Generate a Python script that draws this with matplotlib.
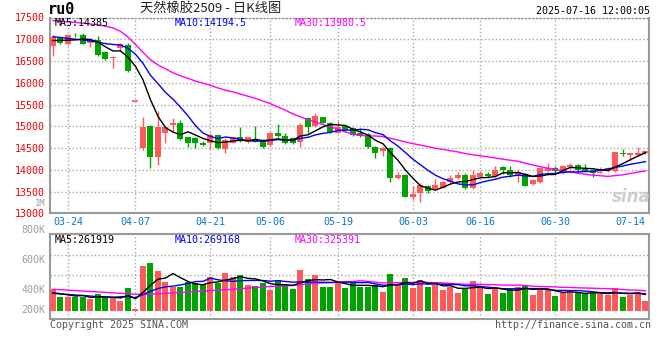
import matplotlib
matplotlib.use('Agg')
import matplotlib.pyplot as plt
import numpy as np
import pandas as pd
from matplotlib.transforms import blended_transform_factory

plt.rcParams['font.family'] = ['DejaVu Sans Mono']

# %%
# trading days shown (2025)
dates = ['03-20', '03-21', '03-24', '03-25', '03-26', '03-27', '03-28', '03-31', '04-01', '04-02',
         '04-03', '04-07', '04-08', '04-09', '04-10', '04-11', '04-14', '04-15', '04-16', '04-17',
         '04-18', '04-21', '04-22', '04-23', '04-24', '04-25', '04-28', '04-29', '04-30', '05-06',
         '05-07', '05-08', '05-09', '05-12', '05-13', '05-14', '05-15', '05-16', '05-19', '05-20',
         '05-21', '05-22', '05-23', '05-26', '05-27', '05-28', '05-29', '05-30', '06-03', '06-04',
         '06-05', '06-06', '06-09', '06-10', '06-11', '06-12', '06-13', '06-16', '06-17', '06-18',
         '06-19', '06-20', '06-23', '06-24', '06-25', '06-26', '06-27', '06-30', '07-01', '07-02',
         '07-03', '07-04', '07-07', '07-08', '07-09', '07-10', '07-11', '07-14', '07-15', '07-16']
label_dates = ['03-24', '04-07', '04-21', '05-06', '05-19', '06-03', '06-16', '06-30', '07-14']

opens = [16854, 17023, 16893, 17085, 17100, 16923, 16985, 16717, 16563, 16793,
         16870, 15582, 14494, 15008, 14303, 14854, 15038, 15069, 14747, 14740,
         14609, 14609, 14801, 14471, 14625, 14762, 14648, 14701, 14648, 14571,
         14854, 14778, 14740, 14648, 15184, 15008, 15207, 15084, 14854, 15008,
         14954, 14854, 14824, 14517, 14441, 14510, 13805, 13881, 13383, 13460,
         13628, 13552, 13590, 13720, 13812, 13881, 13575, 13843, 13897, 13858,
         14058, 13996, 13858, 13904, 13674, 13728, 13981, 14050, 13920, 14073,
         14111, 14012, 13996, 13935, 13981, 13981, 14395, 14341, 14349, 14379]
highs = [17100, 17040, 17120, 17140, 17140, 17020, 17077, 16730, 16610, 16920,
         16920, 15582, 15222, 15040, 15360, 15010, 15184, 15146, 14760, 14750,
         14670, 14839, 14810, 14724, 14762, 14992, 14762, 15008, 14700, 14877,
         15054, 14840, 14762, 15069, 15207, 15314, 15222, 15107, 15130, 15023,
         14977, 14954, 14854, 14548, 14533, 14533, 13958, 13904, 13628, 13690,
         13651, 13782, 13743, 13874, 13958, 13920, 13996, 13973, 13950, 14088,
         14088, 14096, 14012, 13935, 13782, 14073, 14149, 14088, 14111, 14165,
         14134, 14134, 14012, 14066, 14073, 14418, 14471, 14379, 14533, 14456]
lows = [16625, 16900, 16870, 17050, 16880, 16830, 16620, 16520, 16349, 16740,
        16250, 15582, 14456, 14035, 14111, 14609, 14877, 14690, 14517, 14494,
        14540, 14471, 14480, 14395, 14610, 14650, 14625, 14640, 14510, 14548,
        14762, 14594, 14594, 14533, 14854, 14977, 15069, 14854, 14839, 14900,
        14778, 14747, 14494, 14264, 14318, 13728, 13782, 13368, 13307, 13268,
        13460, 13536, 13575, 13690, 13797, 13552, 13552, 13828, 13820, 13843,
        13904, 13843, 13728, 13628, 13659, 13690, 13958, 13920, 13904, 14012,
        13935, 13958, 13843, 13920, 13958, 13958, 14318, 14211, 14318, 14364]
closes = [17046, 16923, 17100, 17065, 16893, 16985, 16640, 16540, 16600, 16893,
          16272, 15582, 14992, 14303, 14992, 14977, 15069, 14701, 14625, 14625,
          14578, 14801, 14494, 14686, 14747, 14671, 14747, 14648, 14533, 14839,
          14785, 14625, 14609, 15031, 14977, 15238, 15084, 14877, 14977, 14916,
          14801, 14778, 14517, 14379, 14510, 13805, 13881, 13383, 13444, 13651,
          13521, 13659, 13720, 13812, 13889, 13575, 13881, 13920, 13858, 13996,
          13996, 13881, 13958, 13636, 13766, 14050, 14035, 13981, 14096, 14111,
          13996, 13981, 13935, 13958, 14050, 14410, 14364, 14379, 14379, 14425]
# volume in K, as read against the chart's own axis labels
volumes = [405, 356, 351, 356, 351, 340, 373, 351, 344, 329,
           416, 273, 560, 582, 529, 456, 422, 422, 456, 444,
           433, 489, 449, 516, 489, 502, 433, 429, 449, 400,
           467, 433, 407, 533, 473, 500, 422, 422, 451, 416,
           444, 422, 422, 433, 389, 507, 433, 482, 416, 467,
           422, 433, 400, 422, 382, 416, 460, 416, 373, 404,
           382, 416, 422, 433, 367, 407, 407, 360, 378, 389,
           382, 378, 382, 371, 367, 416, 356, 367, 389, 327]
vol_base = 260

# moving averages before enough history is on screen
ma5_head = [16970, 16975, 16980, 16985]
ma10_head = [17060, 17040, 17020, 17000, 16985, 16960, 16930, 16900, 16880]
ma30_head = [17430, 17415, 17400, 17385, 17370, 17350, 17330, 17300, 17260, 17180,
             17050, 16880, 16700, 16530, 16410, 16320, 16230, 16160, 16100, 16040,
             15990, 15940, 15880, 15830, 15790, 15740, 15690, 15640, 15580]
vma5_head = [382, 375, 368, 360]
vma10_head = [378, 374, 370, 367, 363, 360, 356, 353, 351]
vma30_head = [405, 402, 399, 396, 393, 390, 387, 384, 381, 378,
              375, 372, 370, 372, 375, 378, 381, 384, 387, 390,
              393, 396, 399, 402, 405, 409, 413, 417, 420]

# %%
def moving(vals, n, head):
    m = pd.Series(vals, dtype=float).rolling(n).mean().to_numpy()
    m[:n - 1] = head
    return m

ma5 = moving(closes, 5, ma5_head)
ma10 = moving(closes, 10, ma10_head)
ma30 = moving(closes, 30, ma30_head)
vma5 = moving(volumes, 5, vma5_head)
vma10 = moving(volumes, 10, vma10_head)
vma30 = moving(volumes, 30, vma30_head)

# %%
W, H = 660, 360
up_c, dn_c = '#ff5a5a', '#00a400'
grid_c = '#aaaaaa'
axis_c = '#9a9a9a'

fig = plt.figure(figsize=(W / 100, H / 100), dpi=100)
ax1 = fig.add_axes([50 / W, 1 - 213.3 / H, 599 / W, (213.3 - 17.5) / H])
ax2 = fig.add_axes([50 / W, 1 - 319 / H, 599 / W, (319 - 234) / H])

x = np.arange(len(closes))
o = np.array(opens); c = np.array(closes)
colors = [up_c if cc >= oo else dn_c for oo, cc in zip(opens, closes)]

# candles
ax1.vlines(x, lows, highs, colors=colors, lw=1, zorder=3)
ax1.bar(x, np.abs(c - o), bottom=np.minimum(o, c), width=0.8, color=colors, lw=0, zorder=4)
flat = o == c
ax1.hlines(c[flat], x[flat] - 0.4, x[flat] + 0.4, colors=up_c, lw=1.2, zorder=4)

ax1.plot(x, ma30, color='#ff00ff', lw=1, zorder=5)
ax1.plot(x, ma10, color='#0000ff', lw=1, zorder=5)
ax1.plot(x, ma5, color='black', lw=1, zorder=5)

# volume
v = np.array(volumes)
ax2.bar(x, v - vol_base, bottom=vol_base, width=0.8, color=colors, lw=0, zorder=3)
ax2.plot(x, vma30, color='#ff00ff', lw=1, zorder=5)
ax2.plot(x, vma10, color='#0000ff', lw=1, zorder=5)
ax2.plot(x, vma5, color='black', lw=1, zorder=5)

# %%
tick_idx = [dates.index(d) for d in label_dates]
for ax in (ax1, ax2):
    ax.set_xlim(-0.4, 79.47)
    for k in tick_idx[:-1]:
        ax.axvline(k, color=grid_c, ls=':', lw=1, zorder=1)
    for s in ax.spines.values():
        s.set_color(axis_c)
        s.set_linewidth(1.5)
    ax.tick_params(length=0)

ax1.set_ylim(13000, 17500)
ax1.set_yticks(np.arange(13000, 17501, 500))
ax1.set_yticklabels([str(t) for t in range(13000, 17501, 500)], color='#ee0000', fontsize=7.2)
ax1.tick_params(axis='y', pad=4)
ax1.yaxis.grid(True, ls=':', color=grid_c, lw=1, zorder=1)
ax1.spines['top'].set_linestyle(':')
ax1.spines['top'].set_linewidth(1)
ax1.set_xticks(tick_idx)
ax1.set_xticklabels(label_dates, color='#0a78d2', fontsize=7.2)
ax1.tick_params(axis='x', pad=3)
ax1.text(-0.008, 0.052, '1M', transform=ax1.transAxes, ha='right', va='center',
         color='#a0a0a0', fontsize=6.3)

vol_lo, vol_hi = 207, 773
ax2.set_ylim(vol_lo, vol_hi)
ax2.set_xticks([])
ax2.set_yticks([])
for g in [631, 498]:
    ax2.axhline(g, color=grid_c, ls=':', lw=1, zorder=1)
tr = blended_transform_factory(ax2.transAxes, ax2.transData)
for lv in [800, 600, 400, 200]:
    ax2.text(-0.008, max(lv, vol_lo + 60), f'{lv}K', transform=tr, ha='right', va='center',
             color='#a0a0a0', fontsize=7.2, clip_on=False)

# %%
def ftext(px, py, s, **kw):
    fig.text(px / W, 1 - py / H, s, va='center', **kw)

ftext(48, 10, 'ru0', fontsize=11, weight='bold', color='black')
ftext(140, 9.5, '天然橡胶2509 - 日K线图', fontsize=9.5, color='#222222',
      family=['Noto Sans CJK SC', 'DejaVu Sans'])
ftext(650, 11.5, '2025-07-16 12:00:05', fontsize=7.2, ha='right', color='black')

ftext(55, 23.5, 'MA5:14385', fontsize=7.2, color='black')
ftext(175, 23.5, 'MA10:14194.5', fontsize=7.2, color='#0000ff')
ftext(295, 23.5, 'MA30:13980.5', fontsize=7.2, color='#ff00ff')

ftext(55, 240, 'MA5:261919', fontsize=7.2, color='black')
ftext(175, 240, 'MA10:269168', fontsize=7.2, color='#0000ff')
ftext(295, 240, 'MA30:325391', fontsize=7.2, color='#ff00ff')

ftext(50, 325, 'Copyright 2025 SINA.COM', fontsize=7.2, color='#555555')
ftext(651, 325, 'http://finance.sina.com.cn', fontsize=7.2, ha='right', color='#555555')

ftext(651, 197, 'sina', fontsize=12, ha='right', style='italic', weight='bold',
      color='#cfcfcf', family='DejaVu Sans')

fig.savefig('out.png', dpi=100)
